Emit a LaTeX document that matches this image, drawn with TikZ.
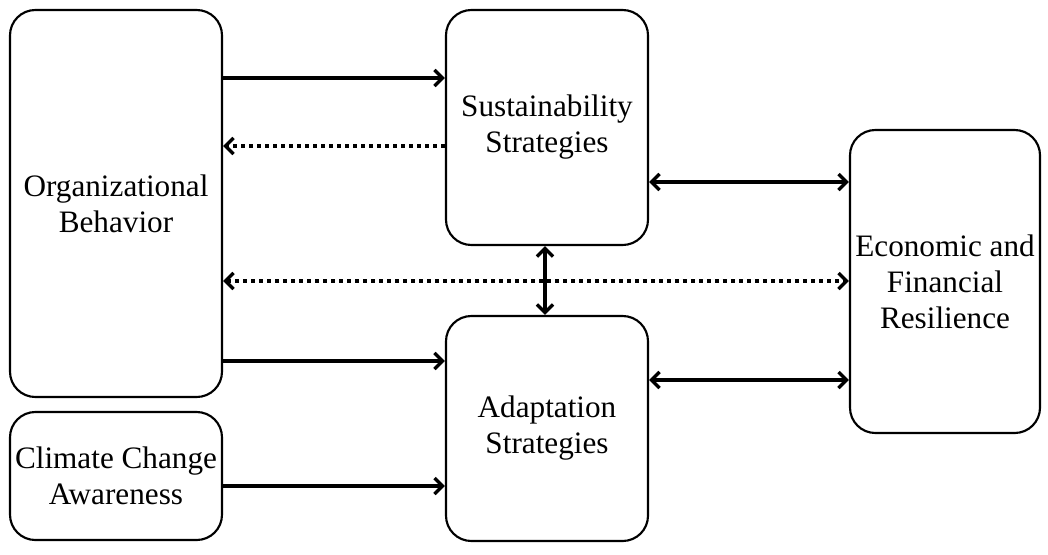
\documentclass[tikz,border=0pt]{standalone}
\usepackage{fontspec}
\setmainfont{Liberation Serif}
\usetikzlibrary{arrows.meta}

\begin{document}
\begin{tikzpicture}[
  x=0.75pt, y=-0.75pt,
  >={Straight Barb[length=6pt,width=12pt]},
  box/.style={draw, rounded corners=19pt, line width=1.6pt, align=center,
              inner sep=0pt, font=\fontsize{23.4}{27}\selectfont},
  flow/.style={->, line width=2.6pt},
  both/.style={<->, line width=2.6pt},
  dots/.style={line width=2.6pt, dash pattern=on 3pt off 3pt}
]
\useasboundingbox (0,0) rectangle (1048,554);

\node[box, minimum width=159pt, minimum height=290.25pt] (org) at (116,203.5) {Organizational\\Behavior};
\node[box, minimum width=159pt, minimum height=96pt] (climate) at (116,476) {Climate Change\\Awareness};
\node[box, minimum width=151.5pt, minimum height=176.25pt] (sust) at (547,127.5) {Sustainability\\Strategies};
\node[box, minimum width=151.5pt, minimum height=168.75pt] (adapt) at (547,428.5) {Adaptation\\Strategies};
\node[box, minimum width=142.5pt, minimum height=227.25pt] (econ) at (945,281.5) {Economic and\\Financial\\Resilience};

\draw[flow] (org.east |- 0,78) -- (sust.west |- 0,78);
\draw[dots, ->] (sust.west |- 0,146) -- (org.east |- 0,146);
\draw[both] (sust.east |- 0,182) -- (econ.west |- 0,182);
\draw[dots, <->] (org.east |- 0,281) -- (econ.west |- 0,281);
\draw[both] (sust.south -| 545,0) -- (adapt.north -| 545,0);
\draw[flow] (org.east |- 0,361) -- (adapt.west |- 0,361);
\draw[both] (adapt.east |- 0,380) -- (econ.west |- 0,380);
\draw[flow] (climate.east |- 0,486) -- (adapt.west |- 0,486);
\end{tikzpicture}
\end{document}
